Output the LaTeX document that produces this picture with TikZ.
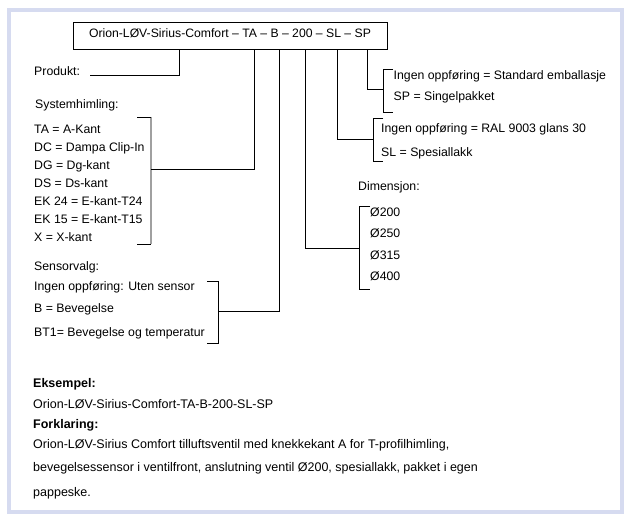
\documentclass[tikz,border=0pt]{standalone}
\usepackage{fontspec}
\setmainfont{Liberation Sans}
\definecolor{framecol}{RGB}{214,219,240}
\definecolor{graybar}{RGB}{160,160,160}
\begin{document}
\begin{tikzpicture}[x=1pt,y=-1pt,
  txt/.style={font=\fontsize{12.3}{14}\selectfont, anchor=base west, inner sep=0pt},
  ltxt/.style={font=\fontsize{12.5}{14}\selectfont, anchor=base west, inner sep=0pt},
  btxt/.style={ltxt, font=\fontsize{12.5}{14}\selectfont\bfseries},
  ln/.style={line width=0.8pt, line join=miter}]
\useasboundingbox (0,0) rectangle (631,525);
\draw[framecol, line width=3.5pt] (9,10) rectangle (622,512);
% code box
\node[draw, ln, minimum width=314pt, minimum height=27pt, inner sep=0pt,
  text height=8.6pt, text depth=5pt,
  font=\fontsize{12.2}{14}\selectfont] (code) at (230,35.5)
  {Orion-LØV-Sirius-Comfort – TA – B – 200 – SL – SP};
% taps on box bottom
\coordinate (tP) at (179,49);
\coordinate (tTA) at (254,49);
\coordinate (tB) at (279,49);
\coordinate (tD) at (305,49);
\coordinate (tSL) at (337,49);
\coordinate (tSP) at (367,49);
% Produkt
\node[txt] (prod) at (34,75) {Produkt:};
\coordinate (prodend) at (90,75);
\draw[ln] (tP) |- (prodend);
% Systemhimling
\node[txt] (sys) at (35,108) {Systemhimling:};
\node[txt] (s1) at (34,133.5) {TA = A-Kant};
\node[txt] (s2) at (34,151.7) {DC = Dampa Clip-In};
\node[txt] (s3) at (34,169.5) {DG = Dg-kant};
\node[txt] (s4) at (34,187) {DS = Ds-kant};
\node[txt] (s5) at (34,205) {EK 24 = E-kant-T24};
\node[txt] (s6) at (34,223.3) {EK 15 = E-kant-T15};
\node[txt] (s7) at (34,241.7) {X = X-kant};
\coordinate (sysT) at (151,117);
\coordinate (sysB) at (151,244);
\coordinate (sysM) at (151,169);
\draw[graybar, line width=1.8pt] (sysT) -- (sysB);
\draw[ln] (137,117) -- (sysT);
\draw[ln] (137,244) -- (sysB);
\draw[ln] (tTA) |- (sysM);
% Sensorvalg
\node[txt] (sen) at (34,270) {Sensorvalg:};
\node[txt] (e1) at (34,290) {Ingen oppføring: Uten sensor};
\node[txt] (e2) at (34,312.3) {B = Bevegelse};
\node[txt] (e3) at (34,336) {BT1= Bevegelse og temperatur};
\coordinate (senT) at (218,281);
\coordinate (senB) at (218,343);
\coordinate (senM) at (218,311);
\draw[ln] (207,281) -- (senT) -- (senB) -- (207,343);
\draw[ln] (tB) |- (senM);
% Dimensjon
\node[txt] (dim) at (358,190) {Dimensjon:};
\node[txt] (d1) at (370,216.7) {Ø200};
\node[txt] (d2) at (370,237.7) {Ø250};
\node[txt] (d3) at (370,259) {Ø315};
\node[txt] (d4) at (370,280) {Ø400};
\coordinate (dimT) at (359,206);
\coordinate (dimB) at (359,289);
\coordinate (dimM) at (359,248);
\draw[ln] (370,206) -- (dimT) -- (dimB) -- (370,289);
\draw[ln] (tD) |- (dimM);
% SL
\node[txt] (l1) at (381,132.7) {Ingen oppføring = RAL 9003 glans 30};
\node[txt] (l2) at (381,156) {SL = Spesiallakk};
\coordinate (slT) at (373,118);
\coordinate (slB) at (373,161);
\coordinate (slM) at (373,139);
\draw[ln] (383,118) -- (slT) -- (slB) -- (383,161);
\draw[ln] (tSL) |- (slM);
% SP
\node[txt] (p1) at (393.5,79.3) {Ingen oppføring = Standard emballasje};
\node[txt] (p2) at (393.5,100.7) {SP = Singelpakket};
\coordinate (spT) at (383,69);
\coordinate (spB) at (383,112);
\coordinate (spM) at (383,89);
\draw[ln] (393,69) -- (spT) -- (spB) -- (393,112);
\draw[ln] (tSP) |- (spM);
% Example
\node[btxt] (ex) at (33,387.3) {Eksempel:};
\node[ltxt] (exc) at (33,408.5) {Orion-LØV-Sirius-Comfort-TA-B-200-SL-SP};
\node[btxt] (fk) at (33,428.3) {Forklaring:};
\node[ltxt] (f1) at (33,448.8) {Orion-LØV-Sirius Comfort tilluftsventil med knekkekant A for T-profilhimling,};
\node[ltxt] (f2) at (33,471) {bevegelsessensor i ventilfront, anslutning ventil Ø200, spesiallakk, pakket i egen};
\node[ltxt] (f3) at (33,496.5) {pappeske.};
\end{tikzpicture}
\end{document}
